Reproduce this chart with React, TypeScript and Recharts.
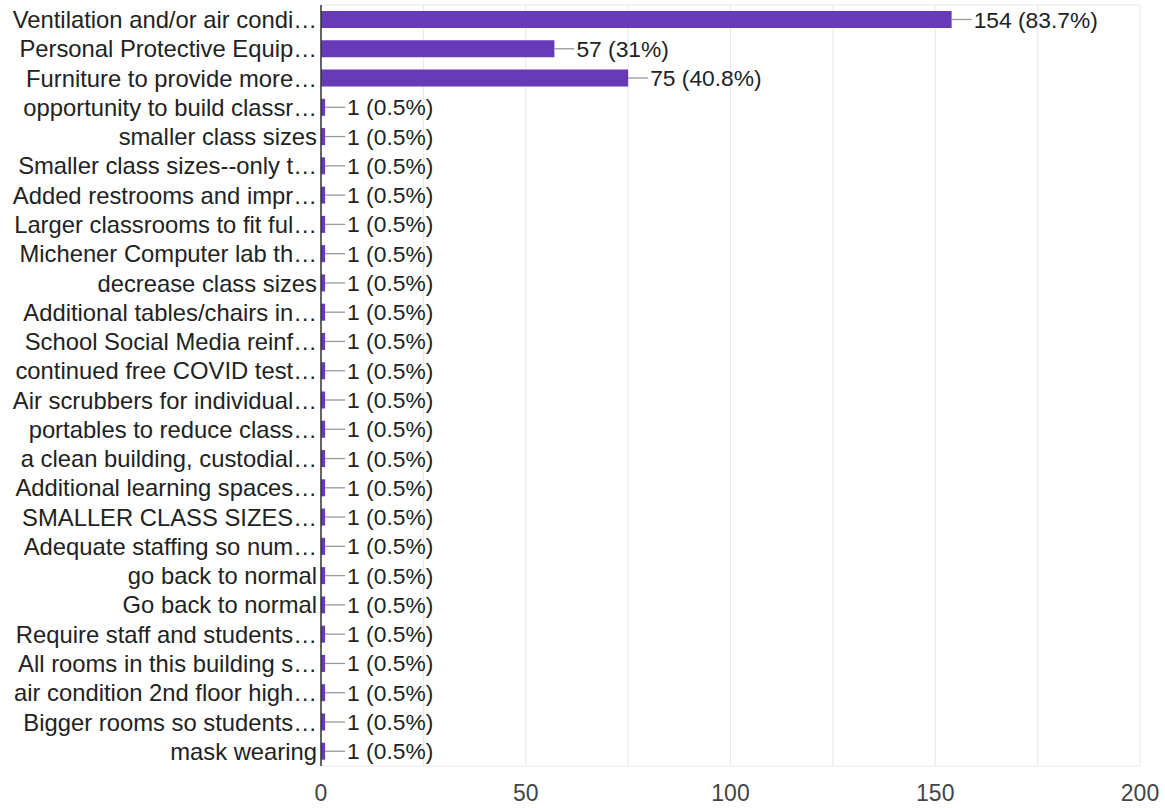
import React from "react";
import { BarChart, Bar, XAxis, YAxis, CartesianGrid, LabelList } from "recharts";

const categories = [
  "Ventilation and/or air condi…",
  "Personal Protective Equip…",
  "Furniture to provide more…",
  "opportunity to build classr…",
  "smaller class sizes",
  "Smaller class sizes--only t…",
  "Added restrooms and impr…",
  "Larger classrooms to fit ful…",
  "Michener Computer lab th…",
  "decrease class sizes",
  "Additional tables/chairs in…",
  "School Social Media reinf…",
  "continued free COVID test…",
  "Air scrubbers for individual…",
  "portables to reduce class…",
  "a clean building, custodial…",
  "Additional learning spaces…",
  "SMALLER CLASS SIZES…",
  "Adequate staffing so num…",
  "go back to normal",
  "Go back to normal",
  "Require staff and students…",
  "All rooms in this building s…",
  "air condition 2nd floor high…",
  "Bigger rooms so students…",
  "mask wearing",
];

const counts = [154, 57, 75, 1, 1, 1, 1, 1, 1, 1, 1, 1, 1, 1, 1, 1, 1, 1, 1, 1, 1, 1, 1, 1, 1, 1];
const percents = [83.7, 31, 40.8, 0.5, 0.5, 0.5, 0.5, 0.5, 0.5, 0.5, 0.5, 0.5, 0.5, 0.5, 0.5, 0.5, 0.5, 0.5, 0.5, 0.5, 0.5, 0.5, 0.5, 0.5, 0.5, 0.5];
const xTicks = [0, 25, 50, 75, 100, 125, 150, 175, 200];

const FONT = '"Liberation Sans", Arial, sans-serif';

const data = categories.map((name, i) => ({
  name,
  count: counts[i],
  label: `${counts[i]} (${percents[i]}%)`,
}));

// grey connector from the bar end, then "n (p%)"
function ValueLabel(props: any) {
  const { x, y, width, height, value } = props;
  const x0 = Number(x) + Number(width);
  const cy = Number(y) + Number(height) / 2;
  return (
    <g>
      <line x1={x0} y1={cy} x2={x0 + 20} y2={cy} stroke="#999" strokeWidth={1.3} />
      <text
        x={x0 + 22}
        y={cy}
        dominantBaseline="central"
        fill="#222"
        fontSize={22.8}
        fontFamily={FONT}
      >
        {value}
      </text>
    </g>
  );
}

export default function App() {
  return (
    <div style={{ position: "absolute", left: 0, top: 0, width: 1165, height: 808, background: "#fff" }}>
      <BarChart
        width={1165}
        height={808}
        data={data}
        layout="vertical"
        margin={{ top: 5, right: 25, bottom: 0, left: 0 }}
        barSize={17}
      >
        <CartesianGrid
          stroke="#e8e8e8"
          horizontalCoordinatesGenerator={({ offset }: any) => [offset.top, offset.top + offset.height]}
        />
        <XAxis
          type="number"
          domain={[0, 200]}
          ticks={xTicks}
          interval={0}
          height={42}
          axisLine={false}
          tickLine={false}
          tickSize={0}
          tickMargin={19}
          tickFormatter={(v: number) => (v % 50 === 0 ? String(v) : "")}
          tick={{ fill: "#444", fontSize: 23, fontFamily: FONT }}
        />
        <YAxis
          type="category"
          dataKey="name"
          width={321}
          interval={0}
          tickLine={false}
          tickSize={0}
          tickMargin={4}
          axisLine={{ stroke: "#333", strokeWidth: 1.5 }}
          tick={{ fill: "#222", fontSize: 23.8, fontFamily: FONT }}
        />
        <Bar dataKey="count" fill="#673ab7" isAnimationActive={false}>
          <LabelList dataKey="label" content={ValueLabel} />
        </Bar>
      </BarChart>
    </div>
  );
}
